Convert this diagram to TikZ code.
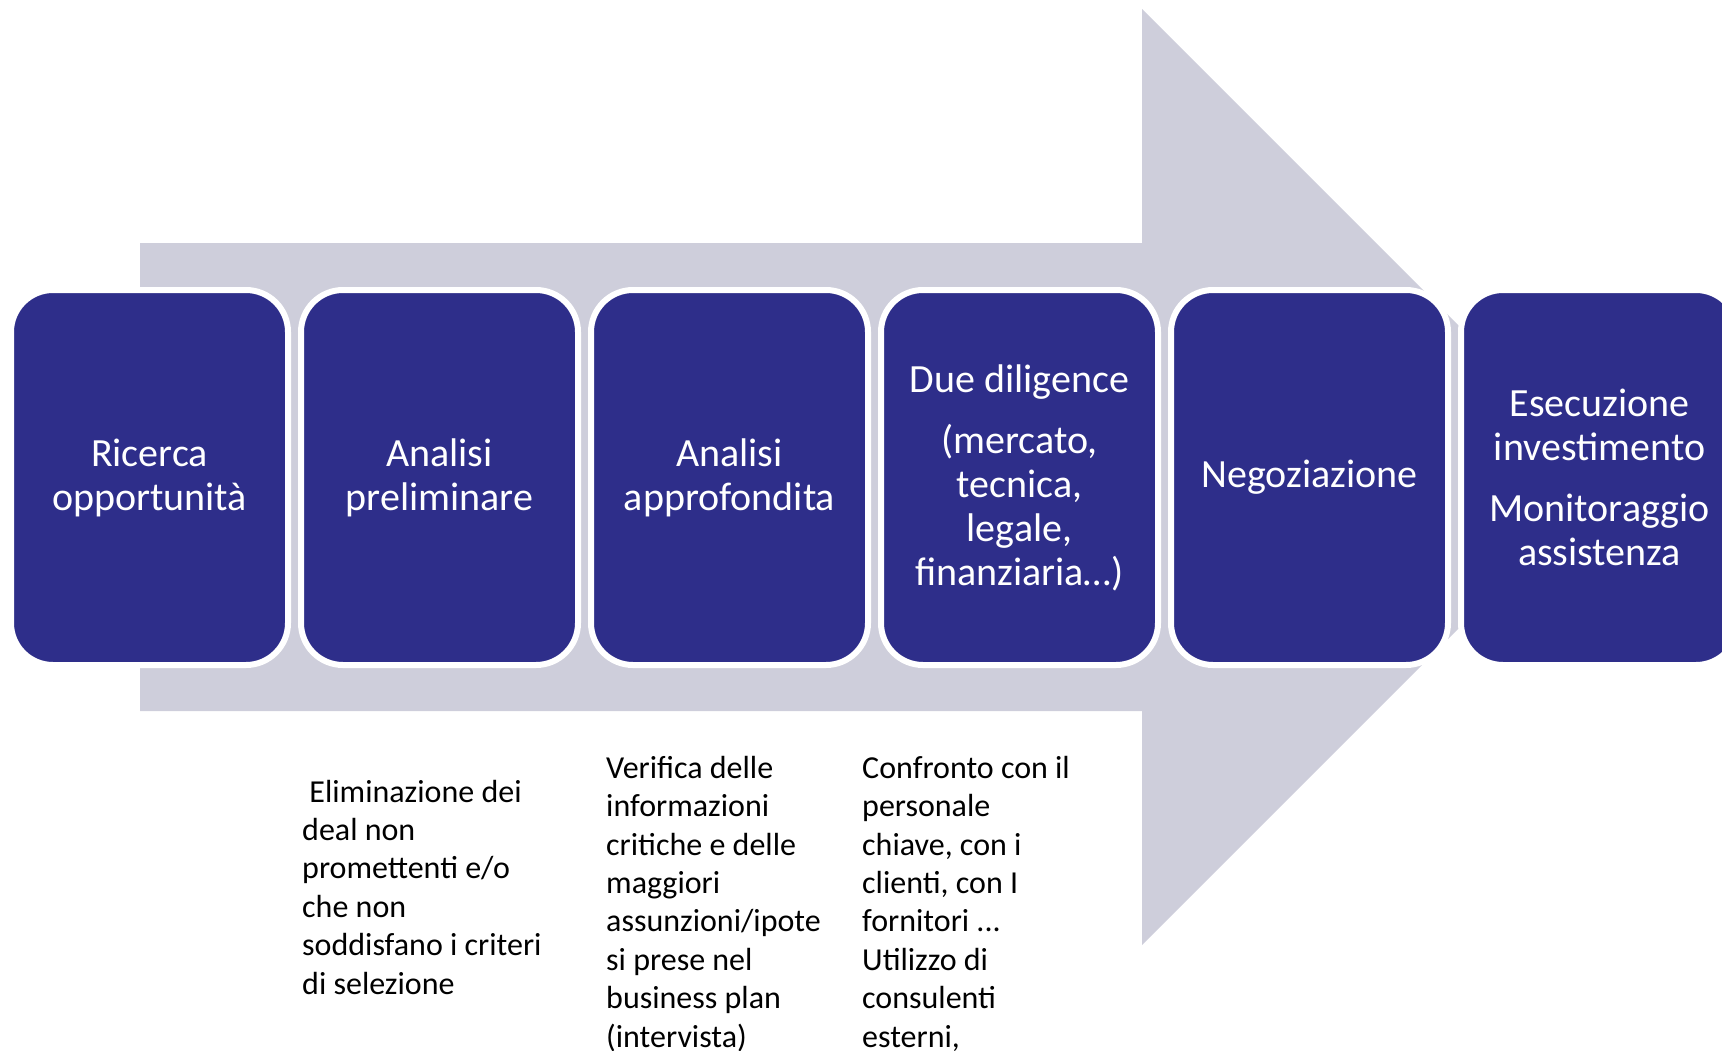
\documentclass[tikz,border=0pt]{standalone}
\usepackage{fontspec}
\setmainfont{Carlito}
\usetikzlibrary{positioning}
\definecolor{ppblue}{RGB}{46,46,138}
\definecolor{ppgray}{RGB}{206,206,219}

\begin{document}
\begin{tikzpicture}[x=1pt, y=-1pt,
  stage/.style={rectangle, rounded corners=42pt, fill=ppblue, draw=white, line width=6pt, outer sep=0pt, inner sep=0pt,
    minimum width=277pt, minimum height=375pt, text=white, align=center, font=\fontsize{40}{44}\selectfont},
  note/.style={anchor=base west, align=left, inner sep=0pt, font=\fontsize{32}{38.4}\selectfont}]
% Frame
\clip (0,0) rectangle (1722,1050);
% Arrow
\fill[ppgray] (140,243) -- (1142,243) -- (1142,9) -- (1610,477) -- (1142,945) -- (1142,711) -- (140,711) -- cycle;
% Stages
\node[stage] (ricerca) at (149.5,477.5) {Ricerca\\opportunità};
\node[stage, right=13pt of ricerca] (preliminare) {Analisi\\preliminare};
\node[stage, right=13pt of preliminare] (approfondita) {Analisi\\approfondita};
\node[stage, right=13pt of approfondita] (diligence) {Due diligence\\[17pt](mercato,\\tecnica,\\legale,\\finanziaria…)};
\node[stage, right=13pt of diligence] (negoziazione) {Negoziazione};
\node[stage, right=13pt of negoziazione] (esecuzione) {Esecuzione\\investimento\\[17pt]Monitoraggio\\assistenza};
% Notes (anchored at the baseline of their last line)
\node[note] (eliminazione) at (302,994) {\ Eliminazione dei\\deal non\\promettenti e/o\\che non\\soddisfano i criteri\\di selezione};
\node[note] (verifica) at (606,1047) {Verifica delle\\informazioni\\critiche e delle\\maggiori\\assunzioni/ipote\\si prese nel\\business plan\\(intervista)};
\node[note] (confronto) at (862,1047) {Confronto con il\\personale\\chiave, con i\\clienti, con I\\fornitori ...\\Utilizzo di\\consulenti\\esterni,};
\end{tikzpicture}
\end{document}
